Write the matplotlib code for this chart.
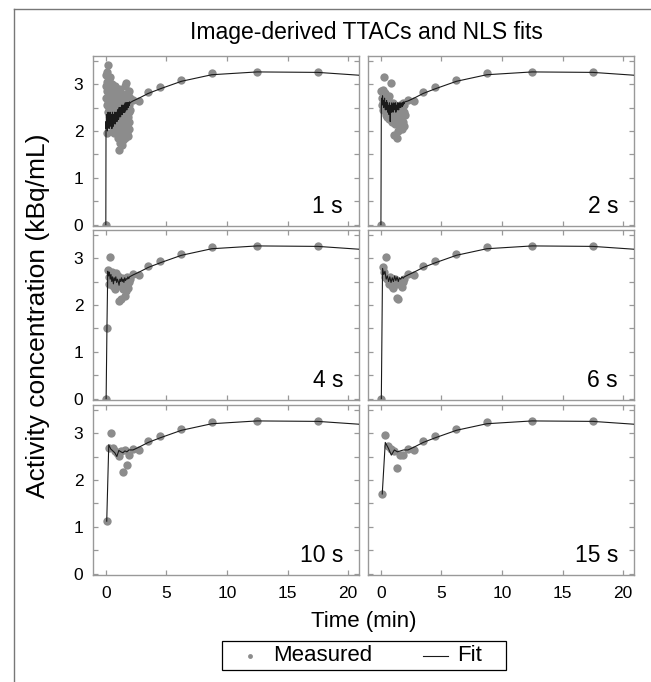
import numpy as np
import matplotlib
matplotlib.use("Agg")
import matplotlib.pyplot as plt
from matplotlib.lines import Line2D
from matplotlib.patches import Rectangle

plt.rcParams['font.family'] = ['Liberation Sans', 'DejaVu Sans']

# early frame length (s) used in the first 2 min, one panel each
frame_labels = ["1 s", "2 s", "4 s", "6 s", "10 s", "15 s"]
frame_sec = [1, 2, 4, 6, 10, 15]

# frames after 2 min are the same in every panel (mid-times, min)
late_t = [2.25, 2.75, 3.5, 4.5, 6.25, 8.75, 12.5, 17.5]
late_meas = [2.66, 2.64, 2.84, 2.93, 3.08, 3.24, 3.26, 3.25]
late_fit = [2.64, 2.70, 2.80, 2.90, 3.06, 3.20, 3.26, 3.25]
tail_t = 22.0
tail_fit = 3.17

meas_1s = [0.0,
           2.95, 3.2, 2.7, 3.05, 1.95, 2.55, 3.25, 2.85, 2.4, 3.0, 2.6, 3.41,
           2.75, 2.35, 3.1, 2.5, 2.9, 2.65, 2.3, 3.15, 2.8, 2.45, 2.7, 2.95,
           2.6, 2.25, 2.85, 2.4, 3.0, 2.55, 2.15, 2.7, 2.35, 2.9, 2.5, 2.05,
           2.65, 2.8, 2.3, 2.45, 1.95, 2.6, 2.75, 2.2, 2.5, 2.95, 2.35, 2.1,
           2.55, 2.7, 2.25, 2.4, 2.85, 2.0, 2.6, 2.3, 2.5, 2.15, 2.75,
           2.4, 1.85, 2.6, 2.2, 2.9, 1.6, 2.45, 2.05, 2.7, 2.3, 1.75, 2.55,
           2.15, 2.8, 1.9, 2.4, 2.6, 2.0, 2.35, 1.7, 2.5, 2.25, 2.75, 1.95,
           2.45, 2.1, 2.65, 1.8, 2.35, 2.55,
           2.2, 2.7, 1.9, 2.45, 2.95, 2.1, 2.6, 1.85, 2.4, 3.02, 2.25, 2.55,
           2.0, 2.75, 2.35, 1.95, 2.6, 2.15, 2.8, 2.3, 2.5, 1.9, 2.65, 2.4,
           2.86, 2.2, 2.55, 2.05, 2.7, 2.45]
fit_1s = [0.0,
          2.2, 2.05, 2.3, 2.15, 2.35, 2.1, 2.25, 2.0, 2.3, 2.2, 2.4, 2.1,
          2.25, 2.15, 2.35, 2.05, 2.2, 2.3, 2.1, 2.25, 2.4, 2.15, 2.2, 2.3,
          2.1, 2.25, 2.35, 2.15, 2.2, 2.05, 2.3, 2.2, 2.4, 2.15, 2.25, 2.3,
          2.1, 2.2, 2.35, 2.25, 2.15, 2.3, 2.2, 2.4, 2.25, 2.3, 2.15, 2.35,
          2.25, 2.2, 2.4, 2.3, 2.25, 2.35, 2.2, 2.4, 2.3, 2.45, 2.25,
          2.35, 2.3, 2.45, 2.25, 2.4, 2.35, 2.5, 2.3, 2.4, 2.45, 2.35, 2.5,
          2.4, 2.3, 2.45, 2.5, 2.35, 2.4, 2.55, 2.4, 2.45, 2.35, 2.5, 2.4,
          2.55, 2.45, 2.4, 2.5, 2.45, 2.55,
          2.4, 2.5, 2.45, 2.55, 2.4, 2.5, 2.6, 2.45, 2.5, 2.55, 2.45, 2.6,
          2.5, 2.55, 2.45, 2.6, 2.5, 2.55, 2.6, 2.5, 2.55, 2.6, 2.5, 2.6,
          2.55, 2.6, 2.55, 2.62, 2.58, 2.6]

meas_2s = [0.0,
           2.86, 2.7, 2.55, 2.88, 2.6, 2.45, 3.15, 2.75, 2.5, 2.65, 2.8, 2.35,
           2.6, 2.7,
           2.5, 2.3, 2.65, 2.4, 2.75, 2.55, 2.25, 2.6, 2.45, 3.02, 2.35, 2.55,
           2.2, 2.5, 2.4, 2.6, 2.3, 2.45, 1.91, 2.35,
           2.5, 2.15, 2.4, 2.25, 1.84, 2.45, 2.3, 2.0, 2.5, 2.2, 2.35, 2.55,
           2.1, 2.4, 2.25, 2.5, 2.3, 2.05, 2.45, 2.6, 2.2, 2.4, 2.1, 2.55, 2.35]
fit_2s = [0.0,
          2.5, 2.7, 2.6, 2.75, 2.55, 2.65, 2.5, 2.6, 2.7, 2.55, 2.45, 2.6,
          2.5, 2.65,
          2.45, 2.6, 2.4, 2.55, 2.5, 2.35, 2.6, 2.45, 2.2, 2.5, 2.55, 2.4,
          2.6, 2.45, 2.55, 2.4, 2.5, 2.6, 2.45, 2.55,
          2.5, 2.6, 2.4, 2.55, 2.5, 2.45, 2.6, 2.5, 2.55, 2.45, 2.6, 2.5,
          2.55, 2.6, 2.5, 2.58, 2.55, 2.6, 2.52, 2.6, 2.55, 2.62, 2.58, 2.6, 2.62]

meas_4s = [0.0, 1.5, 2.74, 2.45, 2.6, 3.03, 2.55, 2.7, 2.4, 2.65,
           2.5, 2.35, 2.68, 2.55, 2.45, 2.62, 2.09, 2.5, 2.4, 2.13,
           2.58, 2.35, 2.45, 2.2, 2.52, 2.3, 2.6, 2.36, 2.5, 2.55]
fit_4s = [0.0, 1.5, 2.72, 2.62, 2.7, 2.55, 2.65, 2.5, 2.6, 2.45,
          2.58, 2.52, 2.6, 2.48, 2.55, 2.5, 2.42, 2.55, 2.5, 2.58,
          2.5, 2.55, 2.48, 2.58, 2.52, 2.56, 2.55, 2.6, 2.56, 2.6]

meas_6s = [0.0, 2.81, 2.7, 2.6, 3.02, 2.55, 2.45, 2.6, 2.5, 2.4,
           2.37, 2.55, 2.45, 2.15, 2.13, 2.5, 2.42, 2.38, 2.5, 2.55]
fit_6s = [0.0, 2.78, 2.65, 2.72, 2.55, 2.62, 2.5, 2.6, 2.48, 2.58,
          2.5, 2.62, 2.52, 2.6, 2.5, 2.58, 2.55, 2.6, 2.57, 2.6]

meas_10s = [1.12, 2.69, 3.01, 2.68, 2.62, 2.58, 2.52, 2.62, 2.17, 2.64, 2.31, 2.53]
fit_10s = [1.12, 2.75, 2.66, 2.62, 2.58, 2.5, 2.63, 2.6, 2.58, 2.62, 2.6, 2.64]

meas_15s = [1.70, 2.96, 2.72, 2.66, 2.62, 2.26, 2.54, 2.54]
fit_15s = [1.70, 2.80, 2.68, 2.53, 2.64, 2.60, 2.62, 2.64]

early_meas = [meas_1s, meas_2s, meas_4s, meas_6s, meas_10s, meas_15s]
early_fit = [fit_1s, fit_2s, fit_4s, fit_6s, fit_10s, fit_15s]

W, H = 651, 682
fig = plt.figure(figsize=(W / 100, H / 100), dpi=100)

spine_col = '#999999'
dot_col = '#8c8c8c'
line_col = '#1a1a1a'

col_x = [93 / W, 368 / W]
row_y = [(H - 226) / H, (H - 400) / H, (H - 575) / H]
aw, ah = 266 / W, 170 / H

for k in range(6):
    r, c = divmod(k, 2)
    ax = fig.add_axes([col_x[c], row_y[r], aw, ah])
    dt = frame_sec[k] / 60.0
    n = len(early_meas[k])
    t_early = np.arange(n) * dt + dt / 2
    t = np.concatenate([t_early, late_t])
    meas = np.concatenate([early_meas[k], late_meas])
    fit_t = np.concatenate([t, [tail_t]])
    fit = np.concatenate([early_fit[k], late_fit, [tail_fit]])

    ax.plot(t, meas, 'o', color=dot_col, ms=6, mec='none', zorder=2)
    ax.plot(fit_t, fit, '-', color=line_col, lw=0.8, zorder=3)

    ax.set_xlim(-1.05, 20.9)
    ax.set_ylim(-0.03, 3.6)
    ax.set_xticks([0, 5, 10, 15, 20])
    ax.set_yticks([0, 1, 2, 3])
    ax.set_yticks([0.5, 1.5, 2.5, 3.5], minor=True)
    for s in ax.spines.values():
        s.set_color(spine_col)
        s.set_linewidth(1.0)
    ax.tick_params(which='both', direction='in', top=True, right=True,
                   length=3.5, width=0.9, color=spine_col, labelsize=12.5,
                   labelcolor='black')
    ax.tick_params(axis='y', pad=7)
    ax.tick_params(axis='x', pad=8)
    if c == 1:
        ax.tick_params(axis='y', labelleft=False)
    if r < 2:
        ax.tick_params(axis='x', labelbottom=False)

    ax.text(0.94, 0.075, frame_labels[k], transform=ax.transAxes,
            ha='right', va='baseline', fontsize=16.5)

fig.text(366 / W, 1 - 33 / H, "Image-derived TTACs and NLS fits",
         ha='center', va='center', fontsize=16.5)
fig.text(38 / W, 1 - 316 / H, "Activity concentration (kBq/mL)",
         ha='center', va='center', rotation=90, fontsize=19)
fig.text(364 / W, 1 - 622 / H, "Time (min)", ha='center', va='center',
         fontsize=16)

# legend box drawn by hand to match the wide padding of the original
ly = 1 - 655.5 / H
fig.add_artist(Rectangle((222 / W, 1 - 670 / H), 284 / W, 29 / H,
                         transform=fig.transFigure, fill=False,
                         edgecolor='black', lw=0.9))
fig.add_artist(Line2D([250 / W], [ly], marker='o', ls='none', color=dot_col,
                      ms=3.5, mec='none', transform=fig.transFigure))
fig.text(273 / W, ly, "Measured", ha='left', va='center', fontsize=16)
fig.add_artist(Line2D([423 / W, 448 / W], [ly, ly], color=line_col, lw=0.8,
                      transform=fig.transFigure))
fig.text(457 / W, ly, "Fit", ha='left', va='center', fontsize=16)

# outer frame lines (top and left)
fig.add_artist(Line2D([14 / W, 1], [1 - 9 / H, 1 - 9 / H], color='#777777',
                      lw=1.0, transform=fig.transFigure))
fig.add_artist(Line2D([14 / W, 14 / W], [0, 1 - 9 / H], color='#777777',
                      lw=1.0, transform=fig.transFigure))

fig.savefig("out.png", dpi=100)
